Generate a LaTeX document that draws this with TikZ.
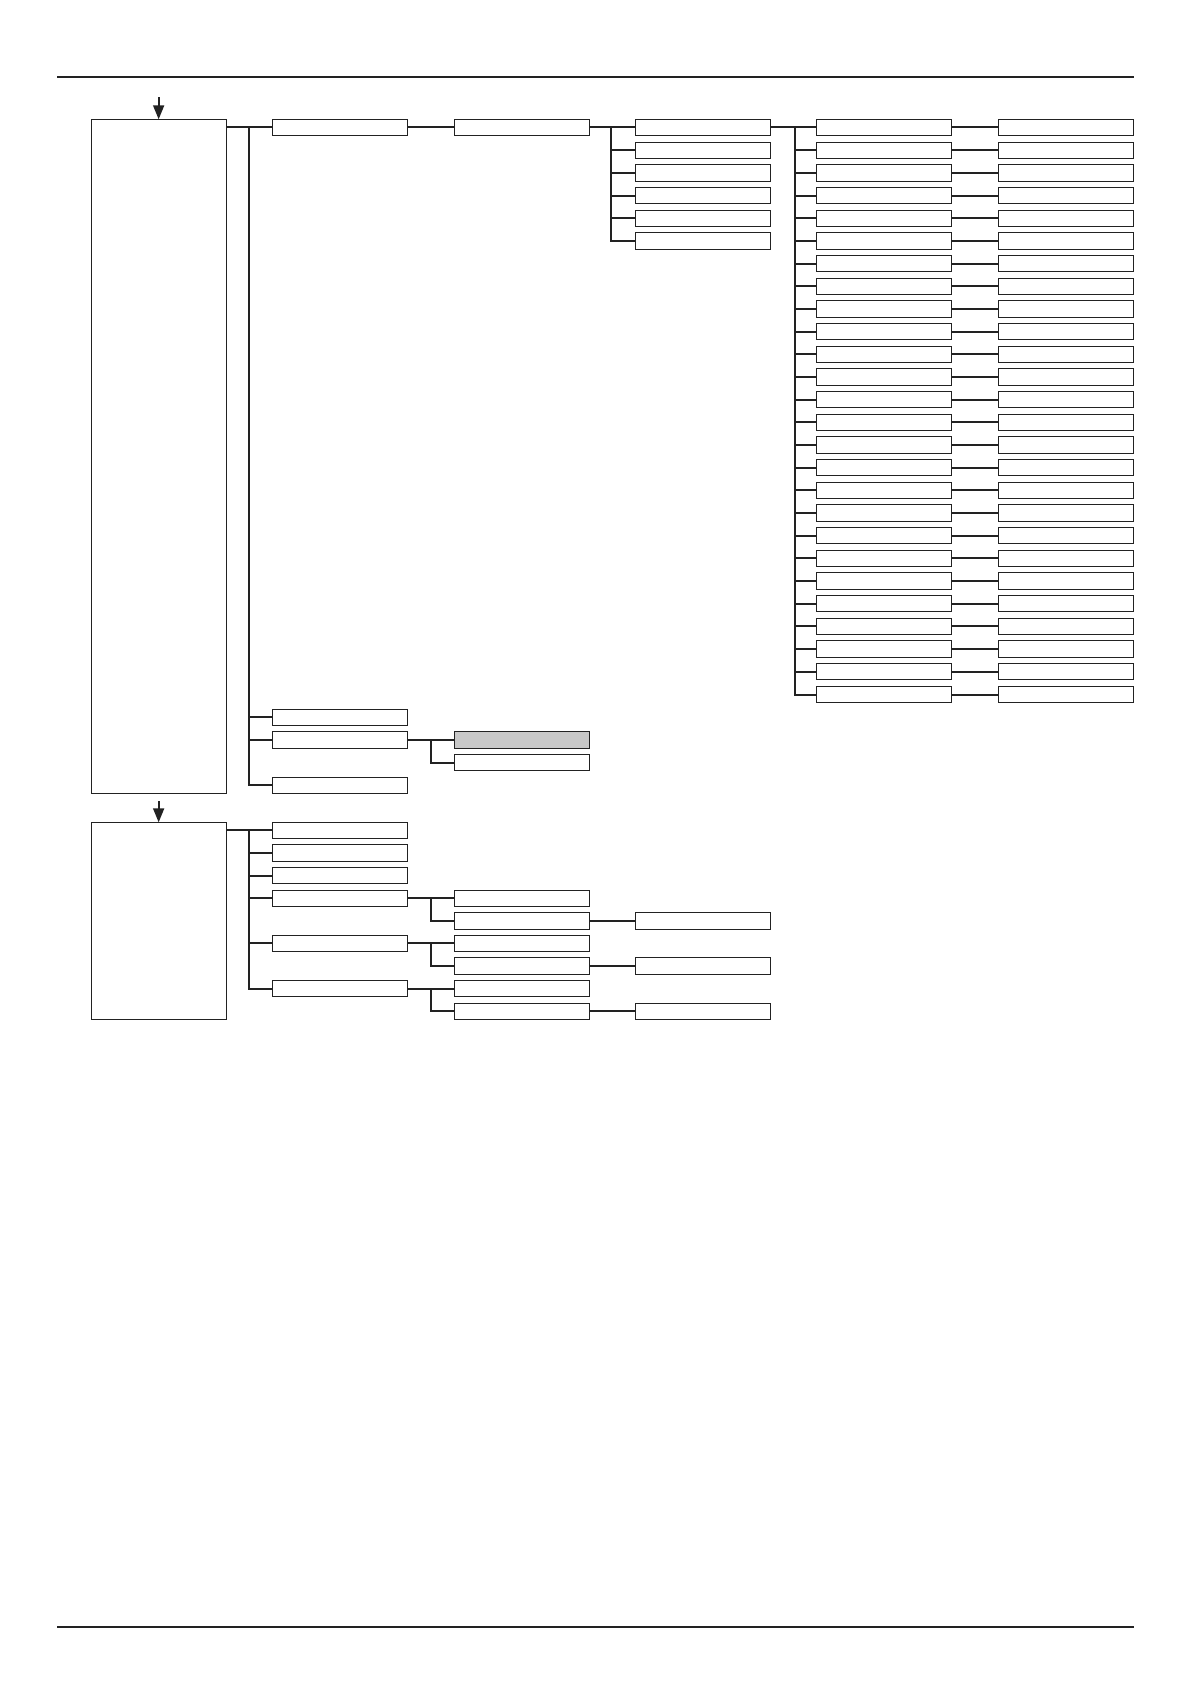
\documentclass[tikz,border=0pt]{standalone}
\usetikzlibrary{arrows.meta}
\definecolor{ink}{HTML}{222222}
\definecolor{greyfill}{HTML}{C8C8C8}
\tikzset{
  bx/.style={draw=ink, line width=0.5pt, minimum width=67.7pt, minimum height=8.15pt,
    inner sep=0pt, outer sep=0pt, anchor=west, fill=white},
  bigbx/.style={draw=ink, line width=0.5pt, inner sep=0pt, outer sep=0pt,
    minimum width=67.65pt, anchor=north west},
  conn/.style={draw=ink, line width=1pt},
  rulerline/.style={draw=ink, line width=1pt},
  arr/.style={draw=ink, line width=0.9pt, -{Triangle[length=7pt,width=5.5pt]}},
}
\begin{document}
\begin{tikzpicture}[x=0.5pt, y=-0.5pt]
\useasboundingbox (0,0) rectangle (1191,1684);
% page rules
\coordinate (r1a) at (57,77.5); \coordinate (r1b) at (1134,77.5);
\coordinate (r2a) at (57,1627); \coordinate (r2b) at (1134,1627);
\draw[rulerline] (r1a) -- (r1b);
\draw[rulerline] (r2a) -- (r2b);

% ---------------- upper section ----------------
\node[bigbx, minimum height=337pt] (A) at (91,119.3) {};
\coordinate (arrA) at (158.65,97.3);
\draw[arr] (arrA) -- (A.north);

% column 1
\foreach \i in {0,26,27,29} {
  \node[bx] (u1-\i) at (272.3,{127.5+22.68*\i}) {};
}
% column 2
\node[bx] (u2-0) at (454.5,127.5) {};
\node[bx, fill=greyfill] (u2-27) at (454.5,{127.5+22.68*27}) {};
\node[bx] (u2-28) at (454.5,{127.5+22.68*28}) {};
% column 3
\foreach \i in {0,...,5} {
  \node[bx] (u3-\i) at (635,{127.5+22.68*\i}) {};
}
% columns 4 and 5
\foreach \i in {0,...,25} {
  \node[bx] (u4-\i) at (816.3,{127.5+22.68*\i}) {};
  \node[bx] (u5-\i) at (998,{127.5+22.68*\i}) {};
}

% connectors upper
\coordinate (jA) at (249,127.5);
\draw[conn] (A.east |- u1-0.west) -- (u1-0.west);
\foreach \i in {26,27,29} { \draw[conn] (jA) |- (u1-\i.west); }
\draw[conn] (u1-0.east) -- (u2-0.west);
\coordinate (j2) at (611.2,127.5);
\draw[conn] (u2-0.east) -- (u3-0.west);
\foreach \i in {1,...,5} { \draw[conn] (j2) |- (u3-\i.west); }
\coordinate (j3) at (794.5,127.5);
\draw[conn] (u3-0.east) -- (u4-0.west);
\foreach \i in {1,...,25} { \draw[conn] (j3) |- (u4-\i.west); }
\foreach \i in {0,...,25} { \draw[conn] (u4-\i.east) -- (u5-\i.west); }
\coordinate (j27) at (430.7,{127.5+22.68*27});
\draw[conn] (u1-27.east) -- (u2-27.west);
\draw[conn] (j27) |- (u2-28.west);

% ---------------- lower section ----------------
\node[bigbx, minimum height=98.5pt] (B) at (91,822.3) {};
\coordinate (arrB) at (158.65,801);
\draw[arr] (arrB) -- (B.north);

\foreach \j in {0,1,2,3,5,7} {
  \node[bx] (l1-\j) at (272.3,{830.45+22.6*\j}) {};
}
\foreach \j in {3,4,5,6,7,8} {
  \node[bx] (l2-\j) at (454.5,{830.45+22.6*\j}) {};
}
\foreach \j in {4,6,8} {
  \node[bx] (l3-\j) at (635,{830.45+22.6*\j}) {};
}

\coordinate (jB) at (249,830.45);
\draw[conn] (B.east |- l1-0.west) -- (l1-0.west);
\foreach \j in {1,2,3,5,7} { \draw[conn] (jB) |- (l1-\j.west); }
\foreach \j/\k in {3/4,5/6,7/8} {
  \draw[conn] (l1-\j.east) -- (l2-\j.west);
  \coordinate (jl\j) at (430.7,{830.45+22.6*\j});
  \draw[conn] (jl\j) |- (l2-\k.west);
  \draw[conn] (l2-\k.east) -- (l3-\k.west);
}
\end{tikzpicture}
\end{document}
